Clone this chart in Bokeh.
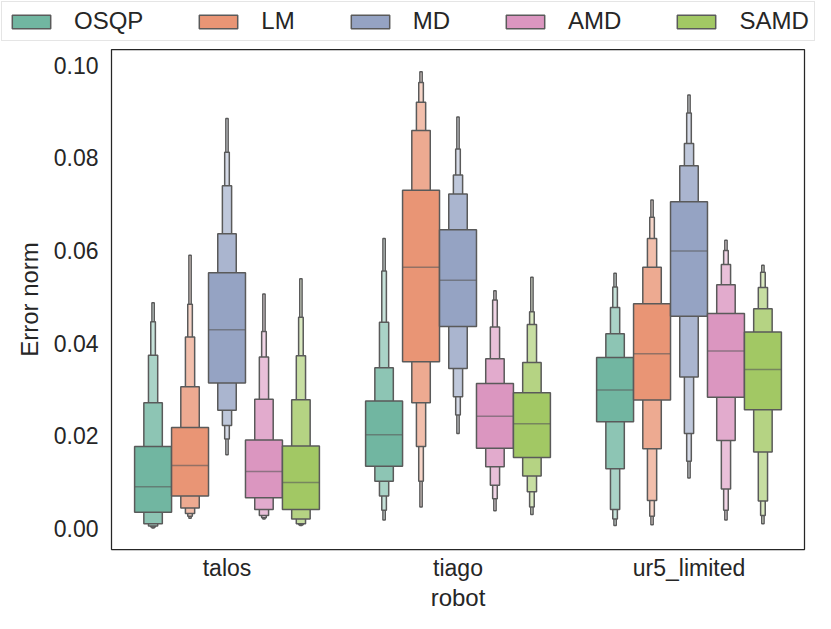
from bokeh.plotting import figure
from bokeh.layouts import column
from bokeh.models import (Range1d, FixedTicker, NumeralTickFormatter, Legend,
                          LegendItem, ColumnDataSource)
from bokeh.embed import file_html
from bokeh.resources import INLINE

robots = ["talos", "tiago", "ur5_limited"]
methods = ["OSQP", "LM", "MD", "AMD", "SAMD"]
colors = ["#71b6a1", "#e99575", "#95a3c3", "#db96c0", "#a2c864"]

# letter-value boxes: per robot, levels 1..5 (innermost first)
osqp_upper = [[0.0177, 0.0271, 0.0374, 0.0446, 0.0487],
              [0.0275, 0.0347, 0.0445, 0.0556, 0.0626],
              [0.0369, 0.0420, 0.0477, 0.0521, 0.0551]]
osqp_lower = [[0.0035, 0.0010, 0.0005, 0.0003, 0.0001],
              [0.0134, 0.0102, 0.0070, 0.0039, 0.0018],
              [0.0230, 0.0129, 0.0041, 0.0020, 0.0006]]
osqp_median = [0.0090, 0.0202, 0.0299]

lm_upper = [[0.0218, 0.0306, 0.0413, 0.0484, 0.0590],
            [0.0730, 0.0859, 0.0920, 0.0963, 0.0986],
            [0.0485, 0.0564, 0.0626, 0.0672, 0.0709]]
lm_lower = [[0.0070, 0.0044, 0.0032, 0.0026, 0.0022],
            [0.0360, 0.0271, 0.0177, 0.0102, 0.0046],
            [0.0277, 0.0172, 0.0060, 0.0026, 0.0008]]
lm_median = [0.0136, 0.0564, 0.0377]

md_upper = [[0.0552, 0.0636, 0.0740, 0.0812, 0.0885],
            [0.0645, 0.0722, 0.0763, 0.0819, 0.0888],
            [0.0705, 0.0783, 0.0831, 0.0897, 0.0936]]
md_lower = [[0.0314, 0.0255, 0.0222, 0.0193, 0.0159],
            [0.0436, 0.0345, 0.0284, 0.0245, 0.0205],
            [0.0458, 0.0327, 0.0205, 0.0145, 0.0109]]
md_median = [0.0429, 0.0536, 0.0599]

amd_upper = [[0.0191, 0.0279, 0.0370, 0.0425, 0.0506],
             [0.0313, 0.0366, 0.0435, 0.0493, 0.0513],
             [0.0464, 0.0526, 0.0570, 0.0600, 0.0622]]
amd_lower = [[0.0066, 0.0041, 0.0028, 0.0023, 0.0020],
             [0.0173, 0.0133, 0.0093, 0.0064, 0.0038],
             [0.0283, 0.0190, 0.0085, 0.0039, 0.0018]]
amd_median = [0.0123, 0.0242, 0.0383]

samd_upper = [[0.0178, 0.0278, 0.0373, 0.0456, 0.0539],
              [0.0293, 0.0358, 0.0440, 0.0468, 0.0542],
              [0.0424, 0.0474, 0.0520, 0.0553, 0.0568]]
samd_lower = [[0.0041, 0.0020, 0.0010, 0.0008, 0.0006],
              [0.0153, 0.0113, 0.0079, 0.0046, 0.0030],
              [0.0256, 0.0165, 0.0059, 0.0028, 0.0010]]
samd_median = [0.0099, 0.0226, 0.0343]

y_ticks = [0.0, 0.02, 0.04, 0.06, 0.08, 0.10]

uppers = [osqp_upper, lm_upper, md_upper, amd_upper, samd_upper]
lowers = [osqp_lower, lm_lower, md_lower, amd_lower, samd_lower]
medians = [osqp_median, lm_median, md_median, amd_median, samd_median]

LINE = "#5a5a5a"
TEXT = "#262626"
FONT = "Liberation Sans"


def blend(hex_color, f):
    h = hex_color.lstrip("#")
    r, g, b = (int(h[i:i + 2], 16) for i in (0, 2, 4))
    r = round(r + (255 - r) * f)
    g = round(g + (255 - g) * f)
    b = round(b + (255 - b) * f)
    return "#%02x%02x%02x" % (r, g, b)


# ---------------- main plot ----------------
p = figure(width=815, height=565, x_range=Range1d(-0.5, 2.5),
           y_range=Range1d(-0.00456, 0.1034), output_backend="svg",
           toolbar_location=None, min_border_left=111, min_border_right=11,
           min_border_top=1, min_border_bottom=20)
p.frame_align = False
p.background_fill_color = "white"
p.border_fill_color = "white"
p.outline_line_color = TEXT
p.outline_line_width = 1.25
p.xgrid.visible = False
p.ygrid.visible = False

n_hue = len(methods)
dodge = 0.8 / n_hue
n_levels = 5
main_sources = []
for h, m in enumerate(methods):
    centers = [r + (h - (n_hue - 1) / 2) * dodge for r in range(len(robots))]
    for j in reversed(range(n_levels)):
        w = dodge * 0.5 ** j
        src = ColumnDataSource(dict(
            left=[c - w / 2 for c in centers],
            right=[c + w / 2 for c in centers],
            bottom=[lowers[h][r][j] for r in range(len(robots))],
            top=[uppers[h][r][j] for r in range(len(robots))],
        ))
        p.quad(left="left", right="right", bottom="bottom", top="top",
               source=src, fill_color=blend(colors[h], j / n_levels),
               line_color=LINE, line_width=1.5)
        if j == 0:
            main_sources.append(src)
    msrc = ColumnDataSource(dict(
        x0=[c - dodge / 2 for c in centers], x1=[c + dodge / 2 for c in centers],
        y=medians[h]))
    p.segment(x0="x0", x1="x1", y0="y", y1="y", source=msrc,
              line_color=LINE, line_width=1.5, line_alpha=0.6)

p.xaxis.ticker = FixedTicker(ticks=list(range(len(robots))))
p.xaxis.major_label_overrides = {i: r for i, r in enumerate(robots)}
p.yaxis.ticker = FixedTicker(ticks=y_ticks)
p.yaxis.formatter = NumeralTickFormatter(format="0.00")
p.xaxis.axis_label = "robot"
p.yaxis.axis_label = "Error norm"
for ax in (p.xaxis, p.yaxis):
    ax.axis_line_color = None
    ax.major_tick_line_color = None
    ax.minor_tick_line_color = None
    ax.major_tick_out = 0
    ax.major_tick_in = 0
    ax.minor_tick_out = 0
    ax.minor_tick_in = 0
    ax.major_label_text_font = FONT
    ax.major_label_text_font_size = "23px"
    ax.major_label_text_color = TEXT
    ax.axis_label_text_font = FONT
    ax.axis_label_text_font_size = "24px"
    ax.axis_label_text_font_style = "normal"
    ax.axis_label_text_color = TEXT
p.xaxis.major_label_standoff = 5
p.xaxis.axis_label_standoff = 0
p.yaxis.major_label_standoff = 13
p.yaxis.axis_label_standoff = 8

# ---------------- legend strip ----------------
# same boxes, but this strip's y-range lies above the data, so only the legend shows
lg = figure(width=815, height=48, x_range=Range1d(-0.5, 2.5),
            y_range=Range1d(1, 2), output_backend="svg",
            toolbar_location=None, min_border_left=0, min_border_right=0,
            min_border_top=0, min_border_bottom=0)
lg.frame_align = False
lg.outline_line_color = None
lg.background_fill_color = "white"
lg.border_fill_color = "white"
lg.xaxis.visible = False
lg.yaxis.visible = False
lg.xgrid.visible = False
lg.ygrid.visible = False
items = []
for h, m in enumerate(methods):
    r = lg.quad(left="left", right="right", bottom="bottom", top="top",
                source=main_sources[h], fill_color=colors[h],
                line_color=LINE, line_width=1.5)
    items.append(LegendItem(label=m, renderers=[r]))
legend = Legend(items=items, orientation="horizontal", location="top_left")
legend.label_text_font = FONT
legend.label_text_font_size = "24px"
legend.label_text_color = TEXT
legend.glyph_width = 48
legend.glyph_height = 17
legend.label_standoff = 19
legend.spacing = 51
legend.padding = 5
legend.margin = 1
legend.border_line_color = "#cccccc"
legend.border_line_width = 1
legend.background_fill_color = "white"
legend.background_fill_alpha = 1.0
lg.add_layout(legend, "center")

layout = column(lg, p, spacing=0)
open("out.html", "w").write(file_html(layout, INLINE))
